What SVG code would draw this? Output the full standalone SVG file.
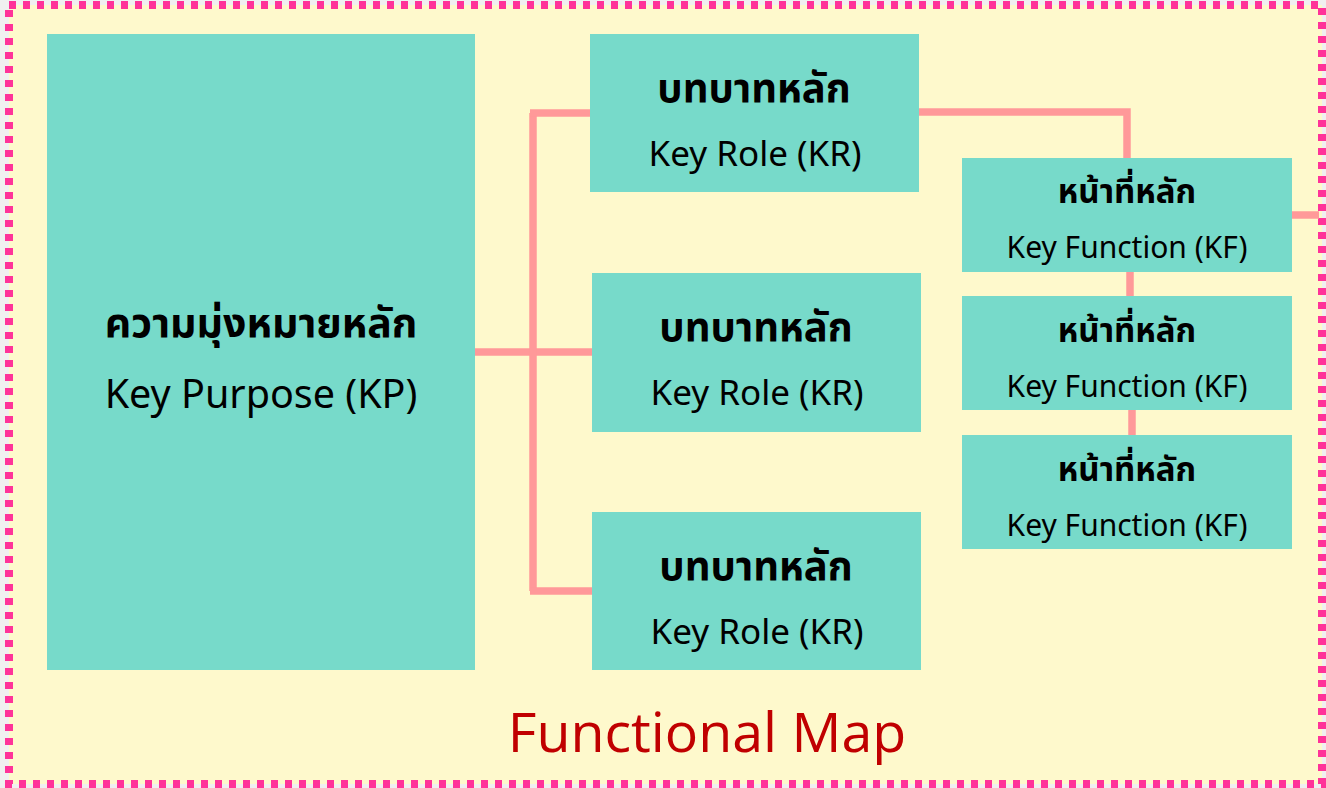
<svg xmlns="http://www.w3.org/2000/svg" width="1326" height="788" viewBox="0 0 1326 788">
<style>
.box{fill:#77DACA}
.th{font-family:"Noto Sans Thai","Noto Sans","DejaVu Sans",sans-serif;font-weight:bold;fill:#000;text-anchor:middle}
.en{font-family:"Noto Sans","Open Sans",sans-serif;fill:#000;text-anchor:middle}
.con{stroke:#FF9999;stroke-width:7.5;fill:none;stroke-linejoin:miter}
</style>
<rect x="0" y="0" width="1326" height="788" fill="#F0F0F0"/>
<rect x="9" y="5" width="1313" height="779" fill="#FEF9CC" stroke="#FF3399" stroke-width="8" stroke-dasharray="7 7"/>
<g id="connectors">
<path class="con" d="M475 352 H592"/>
<path class="con" d="M533 113 V591"/>
<path class="con" d="M530 113 H590"/>
<path class="con" d="M530 591 H592"/>
<path class="con" d="M919 112 H1127 V158"/>
<path class="con" d="M1130 271 V296"/>
<path class="con" d="M1132 409 V435"/>
<path class="con" d="M1291 215 H1319"/>
</g>
<g id="kp">
<rect class="box" x="47" y="34" width="428" height="636"/>
<text class="th" x="261" y="337" font-size="41">ความมุ่งหมายหลัก</text>
<text class="en" x="261" y="408" font-size="39.5">Key Purpose (KP)</text>
</g>
<g id="kr1">
<rect class="box" x="590" y="34" width="329" height="158"/>
<text class="th" x="754" y="102" font-size="40">บทบาทหลัก</text>
<text class="en" x="755" y="166" font-size="35">Key Role (KR)</text>
</g>
<g id="kr2">
<rect class="box" x="592" y="273" width="329" height="159"/>
<text class="th" x="756" y="341" font-size="40">บทบาทหลัก</text>
<text class="en" x="757" y="405" font-size="35">Key Role (KR)</text>
</g>
<g id="kr3">
<rect class="box" x="592" y="512" width="329" height="158"/>
<text class="th" x="756" y="580" font-size="40">บทบาทหลัก</text>
<text class="en" x="757" y="644" font-size="35">Key Role (KR)</text>
</g>
<g id="kf1">
<rect class="box" x="962" y="158" width="330" height="114"/>
<text class="th" x="1127" y="203" font-size="33">หน้าที่หลัก</text>
<text class="en" x="1127" y="258" font-size="30">Key Function (KF)</text>
</g>
<g id="kf2">
<rect class="box" x="962" y="296" width="330" height="114"/>
<text class="th" x="1127" y="342" font-size="33">หน้าที่หลัก</text>
<text class="en" x="1127" y="397" font-size="30">Key Function (KF)</text>
</g>
<g id="kf3">
<rect class="box" x="962" y="435" width="330" height="114"/>
<text class="th" x="1127" y="481" font-size="33">หน้าที่หลัก</text>
<text class="en" x="1127" y="536" font-size="30">Key Function (KF)</text>
</g>
<text x="707" y="752" font-family="Open Sans,Noto Sans,sans-serif" font-size="55.5" fill="#C00000" text-anchor="middle">Functional Map</text>
</svg>
